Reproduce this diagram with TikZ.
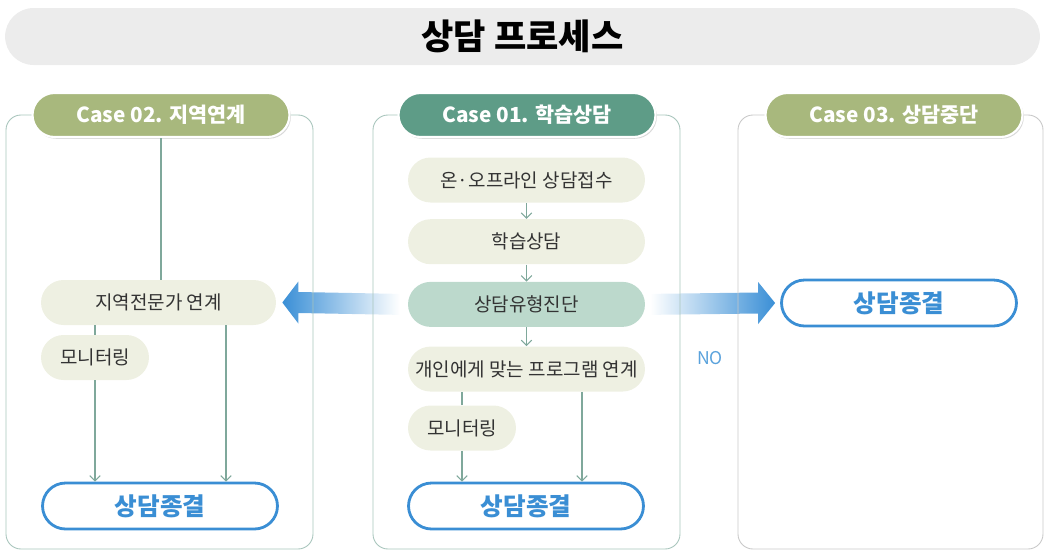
\documentclass[tikz,border=0pt]{standalone}
\usepackage{fontspec}
\setmainfont{Noto Sans CJK KR}
\usetikzlibrary{positioning,calc,arrows.meta,shadows}
\definecolor{textgray}{HTML}{333333}
\definecolor{titlegray}{HTML}{ECECEC}
\definecolor{pillbeige}{HTML}{EEF0E2}
\definecolor{pillteal}{HTML}{BCD9CC}
\definecolor{casegreen}{HTML}{A8B87D}
\definecolor{caseteal}{HTML}{5E9C87}
\definecolor{flowline}{HTML}{7FA89B}
\definecolor{endblue}{HTML}{3A8ED4}
\definecolor{noblue}{HTML}{5AA2DC}
\definecolor{panelline}{HTML}{A8C5BC}
\definecolor{panelgray}{HTML}{C8C8C8}
\definecolor{arrowblue}{HTML}{3A8FD6}
\pgfdeclarelayer{bg}
\pgfsetlayers{bg,main}

\begin{document}
\begin{tikzpicture}[x=0.02cm,y=-0.02cm,
    pill/.style={rectangle,rounded corners=0.45cm,minimum height=0.9cm,align=center,text=textgray,font=\fontsize{10.8}{12}\selectfont},
    stepbox/.style={pill,fill=pillbeige,minimum width=4.74cm},
    endbox/.style={rectangle,rounded corners=0.46cm,draw=endblue,line width=1.6pt,fill=white,minimum width=4.7cm,minimum height=0.92cm,text=endblue,font=\fontsize{14}{16}\selectfont\bfseries},
    casehead/.style={rectangle,rounded corners=0.44cm,minimum width=5.14cm,minimum height=0.88cm,draw=white,line width=1.2pt,text=white,font=\fontsize{11.8}{13}\selectfont\bfseries,drop shadow={opacity=0.3,shadow xshift=0.8pt,shadow yshift=-1pt}},
    panel/.style={draw=panelline,line width=0.5pt,rounded corners=0.3cm},
    link/.style={draw=flowline,line width=0.6pt},
    flow/.style={link,-{Straight Barb[length=3pt,width=6pt]}}]
\useasboundingbox (0,0) rectangle (1045,552);

% title bar
\node[fill=titlegray,rounded corners=0.57cm,minimum width=20.7cm,minimum height=1.14cm,font=\fontsize{20}{22}\selectfont\bfseries] (title) at (522.5,36.5) {상담 프로세스};

% panels
\draw[panel] (6,115) rectangle (313,549);
\draw[panel] (373,115) rectangle (680,549);
\draw[panel,draw=panelgray] (738,115) rectangle (1043,549);

\node[casehead,fill=casegreen] (h2) at (161,115) {Case 02. 지역연계};
\node[casehead,fill=caseteal] (h1) at (527,115) {Case 01. 학습상담};
\node[casehead,fill=casegreen] (h3) at (894,115) {Case 03. 상담중단};

% case 01
\node[stepbox] (mrecv) at (526.5,180) {온·오프라인 상담접수};
\node[stepbox,below=0.32cm of mrecv] (mstudy) {학습상담};
\node[stepbox,fill=pillteal,below=0.34cm of mstudy] (mdiag) {상담유형진단};
\node[stepbox,below=0.38cm of mdiag] (mprog) {개인에게 맞는 프로그램 연계};
\node[pill,fill=pillbeige,minimum width=2.16cm] (mmon) at (462,428) {모니터링};
\node[endbox] (mend) at (526,506) {상담종결};

% case 02
\node[stepbox,minimum width=4.7cm] (lexp) at (158.5,302.5) {지역전문가 연계};
\node[pill,fill=pillbeige,minimum width=2.16cm] (lmon) at (95,357.5) {모니터링};
\node[endbox] (lend) at (160,506) {상담종결};

% case 03
\node[endbox] (rend) at (899,303) {상담종결};
\node[text=noblue,font=\fontsize{10}{12}\selectfont] (no) at (710,358) {NO};

% connectors
\draw[flow] (mrecv.south) -- (mstudy.north);
\draw[flow] (mstudy.south) -- (mdiag.north);
\draw[flow] (mdiag.south) -- (mprog.north);
\draw[link] (mmon.north) -- (mmon.north |- mprog.south);
\draw[flow] (mmon.south) -- (mmon.south |- mend.north);
\coordinate (mright) at ($(mprog.south)+(55.5,0)$);
\draw[flow] (mright) -- (mright |- mend.north);

\draw[link] (h2.south) -- (h2.south |- lexp.north);
\draw[link] (lmon.north) -- (lmon.north |- lexp.south);
\draw[flow] (lmon.south) -- (lmon.south |- lend.north);
\coordinate (lright) at ($(lexp.south)+(67.5,0)$);
\draw[flow] (lright) -- (lright |- lend.north);

% big arrows
\begin{pgfonlayer}{bg}
\coordinate (la) at ($(lexp.east)+(6,0)$);
\coordinate (lb) at ($(mdiag.west)+(-8,0)$);
\shade[left color=arrowblue,right color=white] (la) -- ++(16,-21) -- ++(0,10.5) -- ($(lb)+(0,-10.5)$) -- ($(lb)+(0,10.5)$) -- ($(la)+(16,10.5)$) -- ++(0,10.5) -- cycle;
\coordinate (ra) at ($(rend.west)+(-5,0)$);
\coordinate (rb) at ($(mdiag.east)+(5,0)$);
\shade[left color=white,right color=arrowblue] (ra) -- ++(-17,-21) -- ++(0,10.5) -- ($(rb)+(0,-10.5)$) -- ($(rb)+(0,10.5)$) -- ($(ra)+(-17,10.5)$) -- ++(0,10.5) -- cycle;
\end{pgfonlayer}

\end{tikzpicture}
\end{document}
